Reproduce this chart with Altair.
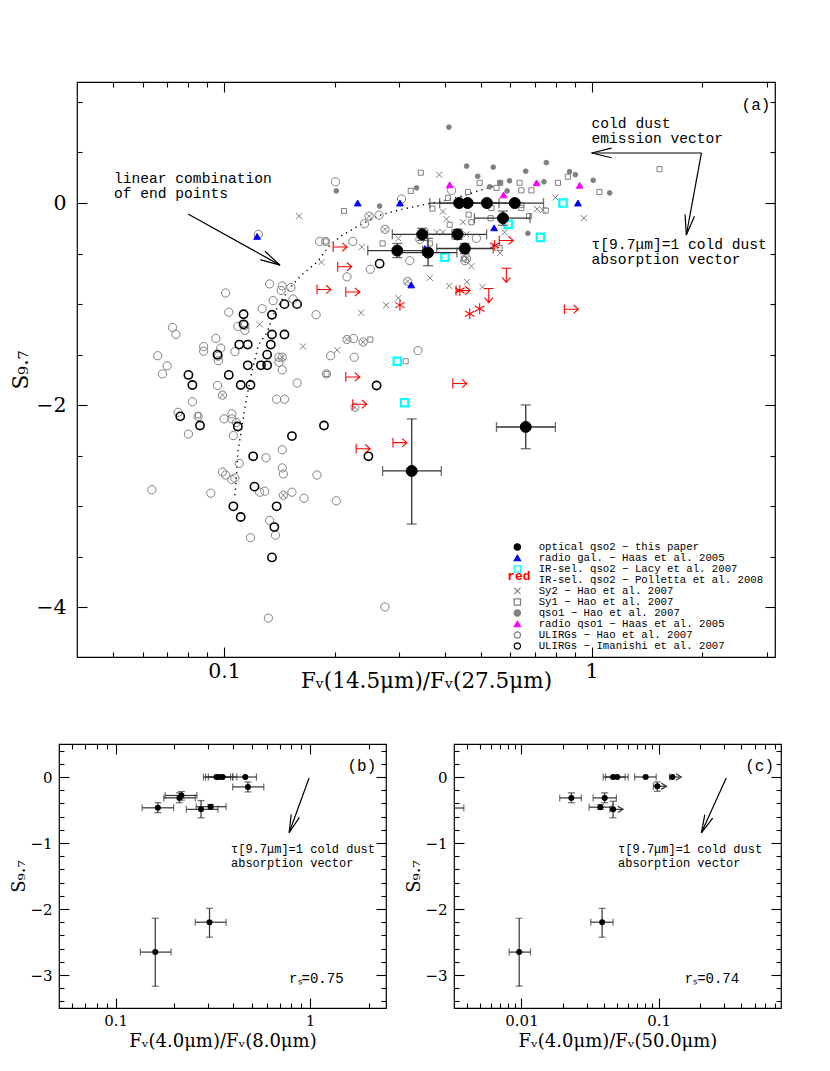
import altair as alt
import pandas as pd

FONT = "DejaVu Serif"
TFONT = "Liberation Mono"
GREY = "#808080"
EBAR = "#333333"

# ------------------------------------------------------------------ legend groups
GROUPS = [
    "optical qso2 − this paper",
    "radio gal. − Haas et al. 2005",
    "IR-sel. qso2 − Lacy et al. 2007",
    "IR-sel. qso2 − Polletta et al. 2008",
    "Sy2 − Hao et al. 2007",
    "Sy1 − Hao et al. 2007",
    "qso1 − Hao et al. 2007",
    "radio qso1 − Haas et al. 2005",
    "ULIRGs − Hao et al. 2007",
    "ULIRGs − Imanishi et al. 2007",
]

# ------------------------------------------------------------------ panel (a) data  (ratio, S9.7)
hao_ulirg = [
    (0.124, -0.31), (0.182, -0.38), (0.189, -0.38), (0.133, -0.80), (0.144, -0.82), (0.152, -0.835),
    (0.143, -0.865), (0.101, -0.89), (0.136, -0.965), (0.154, -0.95), (0.127, -1.045), (0.103, -1.08),
    (0.178, -1.105), (0.0724, -1.23), (0.074, -1.30), (0.109, -1.22), (0.114, -1.21), (0.114, -1.26),
    (0.095, -1.34), (0.088, -1.42), (0.088, -1.465), (0.098, -1.435), (0.107, -1.47), (0.066, -1.51),
    (0.070, -1.61), (0.068, -1.69), (0.0965, -1.515), (0.0965, -1.56), (0.141, -1.525), (0.144, -1.525),
    (0.141, -1.575), (0.144, -1.65), (0.158, -1.78), (0.096, -1.805), (0.082, -1.965), (0.139, -1.94),
    (0.146, -1.94), (0.195, -1.51), (0.19, -1.69), (0.075, -2.07), (0.085, -2.11), (0.080, -2.285),
    (0.100, -2.135), (0.105, -2.085), (0.105, -2.135), (0.108, -2.17), (0.106, -2.30), (0.130, -2.52),
    (0.144, -2.44), (0.144, -2.62), (0.145, -2.68), (0.110, -2.575), (0.099, -2.66), (0.101, -2.69),
    (0.105, -2.735), (0.107, -2.72), (0.0636, -2.835), (0.092, -2.87), (0.125, -2.86), (0.129, -2.85),
    (0.153, -2.86), (0.165, -2.92), (0.179, -2.69), (0.133, -3.14), (0.138, -3.285), (0.118, -3.31),
    (0.132, -4.105), (0.145, -2.89), (0.201, 0.21), (0.304, 0.04), (0.264, -0.12), (0.241, -0.205),
    (0.224, -0.38), (0.25, -0.655), (0.216, -0.73), (0.320, -0.57), (0.225, -1.34), (0.226, -1.525),
    (0.337, -1.46), (0.416, 0.125), (0.341, -0.36), (0.452, -0.57), (0.486, -0.35), (0.202, -2.945),
    (0.274, -3.995), (0.099, -1.90), (0.248, -0.13), (0.274, -0.26), (0.216, -1.35), (0.239, -1.375),
    (0.227, -2.02), (0.316, -0.775), (0.457, -0.55),
]
imanishi = [
    (0.146, -1.00), (0.158, -1.00), (0.113, -1.10), (0.135, -1.105), (0.113, -1.20), (0.135, -1.30),
    (0.146, -1.30), (0.110, -1.40), (0.116, -1.40), (0.134, -1.40), (0.096, -1.50), (0.131, -1.50),
    (0.116, -1.605), (0.126, -1.605), (0.131, -1.605), (0.080, -1.70), (0.103, -1.70), (0.082, -1.80),
    (0.111, -1.80), (0.118, -1.80), (0.076, -2.11), (0.086, -2.20), (0.109, -2.21), (0.187, -2.20),
    (0.153, -2.305), (0.120, -2.505), (0.121, -2.805), (0.139, -3.00), (0.106, -3.00), (0.111, -3.105),
    (0.137, -3.205), (0.135, -3.505), (0.265, -0.60), (0.26, -1.805), (0.247, -2.505),
]
sy2 = [
    (0.160, -0.13), (0.184, -0.585), (0.237, -0.435), (0.298, -0.35), (0.125, -1.2), (0.164, -1.42),
    (0.236, -1.085), (0.276, -1.01), (0.298, -0.94), (0.203, -1.455), (0.274, -0.26), (0.248, -0.13),
    (0.216, -1.35), (0.239, -1.375), (0.316, -0.775), (0.099, -1.90), (0.144, -1.525), (0.227, -2.02),
    (0.145, -2.89), (0.385, 0.28), (0.394, -0.085), (0.403, -0.16), (0.447, -0.19), (0.379, -0.29),
    (0.394, -0.29), (0.363, -0.74), (0.41, -0.82), (0.457, -0.55), (0.71, -0.06), (0.737, -0.07),
    (0.797, 0.055), (0.953, -0.15), (0.58, -0.29), (0.564, -0.495), (0.471, -0.625), (0.458, -0.78),
    (0.505, -0.83), (0.457, -0.31),
]
sy1 = [
    (0.212, -0.08), (0.322, 0.12), (0.270, -0.40), (0.189, -0.38), (0.25, -1.35), (0.312, -1.565),
    (0.343, 0.30), (0.085, -2.10), (0.19, -1.69), (0.369, -0.055), (0.407, 0.05), (0.411, -0.215),
    (0.461, 0.11), (0.363, -0.40), (0.496, 0.20), (0.551, 0.15), (0.564, 0.20), (0.637, 0.20),
    (0.644, 0.125), (0.686, 0.125), (0.81, 0.20), (0.862, 0.26), (1.05, 0.11), (0.75, -0.075),
    (0.676, -0.13), (0.644, -0.05), (0.531, -0.15), (0.471, -0.19), (0.562, -0.445), (0.449, -0.55),
    (1.53, 0.335), (0.463, -0.115), (0.644, -0.02), (0.534, -0.05),
]
qso1 = [
    (0.202, 0.12), (0.265, -0.03), (0.334, 0.15), (0.409, 0.75), (0.457, 0.365), (0.54, 0.355),
    (0.49, 0.265), (0.598, 0.22), (0.662, 0.315), (0.753, 0.40), (0.742, 0.21), (0.528, 0.16),
    (0.871, 0.31), (0.903, 0.28), (1.01, 0.225), (1.12, 0.10), (0.589, 0.12), (0.671, -0.30),
    (0.564, 0.20),
]
radio_gal = [(0.123, -0.33), (0.231, 0.0), (0.301, 0.0), (0.323, -0.81), (0.352, -0.45),
             (0.543, -0.245), (0.918, 0.0)]
radio_qso1 = [(0.411, 0.18), (0.576, 0.08), (0.708, 0.20), (0.928, 0.175)]
lacy = [(0.399, -0.535), (0.593, -0.21), (0.836, 0.0), (0.726, -0.34), (0.296, -1.565), (0.310, -1.975)]
polletta_xlim = [(0.207, -0.435), (0.213, -0.63), (0.187, -0.855), (0.224, -0.88), (0.586, -0.37),
                 (0.447, -0.865), (0.881, -1.05), (0.224, -1.72), (0.234, -1.99), (0.239, -2.43),
                 (0.301, -2.37), (0.438, -1.785)]
polletta_ylim = [(0.586, -0.715), (0.525, -0.915)]
polletta_det = [(0.301, -1.01), (0.466, -1.095), (0.496, -1.045), (0.545, -0.42), (0.438, -0.865)]

# optical qso2 (this paper) in panel (a)
opt_a_x = [0.436, 0.46, 0.519, 0.618, 0.574, 0.346, 0.432, 0.296, 0.359, 0.452, 0.324, 0.662]
opt_a_y = [0.0, 0.0, 0.0, 0.0, -0.15, -0.31, -0.31, -0.47, -0.49, -0.45, -2.65, -2.215]
opt_a_xlo = [0.363, 0.386, 0.43, 0.51, 0.48, 0.287, 0.358, 0.246, 0.30, 0.379, 0.27, 0.551]
opt_a_xhi = [0.515, 0.56, 0.62, 0.74, 0.68, 0.417, 0.518, 0.347, 0.43, 0.54, 0.39, 0.797]
opt_a_ylo = [0.0, 0.0, 0.0, 0.0, -0.22, -0.37, -0.36, -0.54, -0.62, -0.50, -3.175, -2.43]
opt_a_yhi = [0.0, 0.0, 0.0, 0.0, -0.08, -0.25, -0.26, -0.40, -0.35, -0.40, -2.135, -1.997]

# dotted "linear combination of end points" curve
curve_x = [0.107, 0.108, 0.109, 0.112, 0.115, 0.119, 0.124, 0.131, 0.136, 0.144, 0.154, 0.164,
           0.179, 0.194, 0.210, 0.234, 0.265, 0.306, 0.356, 0.404, 0.446, 0.542]
curve_y = [-2.89, -2.73, -2.465, -2.20, -1.94, -1.67, -1.405, -1.28, -1.11, -0.95, -0.80, -0.70,
           -0.585, -0.415, -0.317, -0.218, -0.12, -0.06, -0.01, 0.03, 0.07, 0.17]

# ------------------------------------------------------------------ panel (b) data
opt_b_x = [0.33, 0.34, 0.355, 0.464, 0.479, 0.213, 0.218, 0.165, 0.275, 0.308, 0.160, 0.304]
opt_b_y = [0.0, 0.0, 0.0, 0.0, -0.15, -0.317, -0.28, -0.467, -0.49, -0.45, -2.653, -2.20]
opt_b_xlo = [0.283, 0.29, 0.30, 0.40, 0.40, 0.177, 0.18, 0.137, 0.231, 0.26, 0.134, 0.257]
opt_b_xhi = [0.39, 0.40, 0.42, 0.53, 0.578, 0.257, 0.262, 0.199, 0.336, 0.37, 0.193, 0.37]
opt_b_ylo = [0.0, 0.0, 0.0, 0.0, -0.226, -0.39, -0.35, -0.54, -0.618, -0.49, -3.17, -2.427]
opt_b_yhi = [0.0, 0.0, 0.0, 0.0, -0.075, -0.24, -0.22, -0.39, -0.357, -0.417, -2.14, -1.99]

# ------------------------------------------------------------------ panel (c) data
opt_c_x = [0.0465, 0.0499, 0.0804, 0.126, 0.0978, 0.0231, 0.0404, 0.0376, 0.0465, 0.0028, 0.00962, 0.0387]
opt_c_y = [0.0, 0.0, 0.0, 0.0, -0.14, -0.317, -0.317, -0.457, -0.49, -0.47, -2.653, -2.20]
opt_c_xlo = [0.0394, 0.041, 0.0668, 0.12, 0.0915, 0.019, 0.0333, 0.0311, 0.0441, 0.0023, 0.00813, 0.032]
opt_c_xhi = [0.057, 0.06, 0.096, 0.146, 0.114, 0.0273, 0.0492, 0.046, 0.055, 0.0038, 0.01164, 0.0465]
opt_c_ylo = [0.0, 0.0, 0.0, 0.0, -0.216, -0.39, -0.39, -0.49, -0.618, -0.47, -3.17, -2.427]
opt_c_yhi = [0.0, 0.0, 0.0, 0.0, -0.075, -0.24, -0.24, -0.417, -0.367, -0.47, -2.14, -1.99]
opt_c_lim = [0, 0, 0, 1, 1, 0, 0, 0, 1, 0, 0, 0]

# ------------------------------------------------------------------ annotations
ann_a_text = ["linear combination", "of end points", "cold dust", "emission vector",
              "τ[9.7μm]=1 cold dust", "absorption vector"]
ann_a_x = [0.0502, 0.0502, 1.0, 1.0, 1.0, 1.0]
ann_a_y = [0.238, 0.089, 0.785, 0.637, -0.413, -0.567]
arrow_a_x = [0.0798, 1.99, 1.99]
arrow_a_y = [-0.109, 0.495, 0.495]
arrow_a_x2 = [0.142, 1.0, 1.81]
arrow_a_y2 = [-0.614, 0.495, -0.317]
arrow_a_ang = [29, 180, 100]

vec_text = ["τ[9.7μm]=1 cold dust", "absorption vector"]
vec_y = [-1.095, -1.297]

# ------------------------------------------------------------------ shapes & styles
CROSS = "M-1,-1L1,1M-1,1L1,-1"
ARROW_R = "M-1,-0.7L-1,0.7M-1,0L1,0M0.3,-0.6L1,0L0.3,0.6"
ARROW_D = "M-0.7,-1L0.7,-1M0,-1L0,1M-0.6,0.3L0,1L0.6,0.3"
STAR = "M0,-1L0,1M-0.87,-0.5L0.87,0.5M-0.87,0.5L0.87,-0.5"
HEAD = "M-1,-0.24L0,0L-1,0.24"
LIMHEAD = "M-1,-0.6L0,0L-1,0.6"

SHAPES = ["circle", "triangle-up", "square", ARROW_R, CROSS, "square", "circle", "triangle-up", "circle", "circle"]
FILLS = ["#000000", "#0000ff", "transparent", "transparent", "transparent", "transparent", GREY,
         "#ff00ff", "transparent", "transparent"]
STROKES = ["#000000", "#0000ff", "#00ffff", "transparent", GREY, GREY, GREY, "#ff00ff", GREY, "#000000"]

LEG = alt.Legend(title=None, orient="none", legendX=435, legendY=460, labelFont=TFONT,
                 labelFontSize=10.7, labelColor="black", labelLimit=400, symbolSize=40,
                 symbolStrokeWidth=1.2, rowPadding=0, clipHeight=10, labelOffset=16, padding=0)

XA = alt.Scale(type="log", domain=[0.0398, 3.155], nice=False)
YA = alt.Scale(domain=[-4.49, 1.197], nice=False, zero=False)
XB = alt.Scale(type="log", domain=[0.0512, 2.455], nice=False)
XC = alt.Scale(type="log", domain=[0.00322, 0.78], nice=False)
YBC = alt.Scale(domain=[-3.5, 0.5], nice=False, zero=False)


def pairs_df(pairs, group=None):
    df = pd.DataFrame(pairs, columns=["x", "y"])
    if group is not None:
        df["group"] = group
    return df


def xq(field, sc):
    return alt.X(f"{field}:Q", scale=sc, axis=None)


def yq(field, sc):
    return alt.Y(f"{field}:Q", scale=sc, axis=None)


def group_layer(df, size, sw, XS, YS):
    return alt.Chart(df).mark_point(opacity=1, clip=True).encode(
        x=xq("x", XS), y=yq("y", YS),
        shape=alt.Shape("group:N", scale=alt.Scale(domain=GROUPS, range=SHAPES), legend=LEG),
        fill=alt.Fill("group:N", scale=alt.Scale(domain=GROUPS, range=FILLS), legend=LEG),
        stroke=alt.Stroke("group:N", scale=alt.Scale(domain=GROUPS, range=STROKES), legend=LEG),
        size=alt.value(size), strokeWidth=alt.value(sw),
    )


def optical_df(x, y, xlo, xhi, ylo, yhi, lim=None):
    df = pd.DataFrame({"x": x, "y": y, "xlo": xlo, "xhi": xhi, "ylo": ylo, "yhi": yhi})
    df["lim"] = lim if lim is not None else [0] * len(x)
    return df


def errorbar_layers(df, XS, YS, cap, sw=1.3, headsize=150):
    base = alt.Chart(df)
    has_y = "datum.ylo != datum.yhi"
    return [
        base.mark_rule(color=EBAR, strokeWidth=sw, clip=True).encode(
            x=xq("xlo", XS), x2="xhi:Q", y=yq("y", YS)),
        base.transform_filter(has_y).mark_rule(color=EBAR, strokeWidth=sw, clip=True).encode(
            x=xq("x", XS), y=yq("ylo", YS), y2="yhi:Q"),
        base.mark_tick(orient="vertical", size=cap, thickness=sw, color=EBAR, clip=True).encode(
            x=xq("xlo", XS), y=yq("y", YS)),
        base.transform_filter("datum.lim == 0").mark_tick(orient="vertical", size=cap, thickness=sw,
                                                          color=EBAR, clip=True).encode(
            x=xq("xhi", XS), y=yq("y", YS)),
        base.transform_filter(has_y).mark_tick(orient="horizontal", size=cap, thickness=sw,
                                               color=EBAR, clip=True).encode(
            x=xq("x", XS), y=yq("ylo", YS)),
        base.transform_filter(has_y).mark_tick(orient="horizontal", size=cap, thickness=sw,
                                               color=EBAR, clip=True).encode(
            x=xq("x", XS), y=yq("yhi", YS)),
        base.transform_filter("datum.lim == 1").mark_point(shape=LIMHEAD, filled=False, size=headsize,
                                                           color=EBAR, strokeWidth=sw, opacity=1,
                                                           clip=True).encode(
            x=xq("xhi", XS), y=yq("y", YS)),
    ]


def axis_layers(XS, YS, W, H, xmaj, xmin, ymaj, ymin, xtitle, ytitle, lab_fs, title_fs,
                xlab_pad, ylab_pad, xtitle_pad, ytitle_pad, tmaj, tmin, anchor):
    base = alt.Chart(pd.DataFrame({"x": [anchor[0]], "y": [anchor[1]]})).mark_point(opacity=0)
    common = dict(grid=False, domain=False, tickColor="black", tickWidth=1.1, labels=False, title=None)
    layers = [base.encode(
        x=alt.X("x:Q", scale=XS, axis=alt.Axis(
            values=xmaj, format="~g", ticks=False, grid=False, domain=False, labelPadding=xlab_pad,
            labelFont=FONT, labelFontSize=lab_fs, labelColor="black", labelFlush=False,
            title=xtitle, titleFont=FONT, titleFontSize=title_fs, titleFontWeight="normal",
            titleColor="black", titlePadding=xtitle_pad)),
        y=alt.Y("y:Q", scale=YS, axis=alt.Axis(
            values=ymaj, format="~g", ticks=False, grid=False, domain=False, labelPadding=ylab_pad,
            labelFont=FONT, labelFontSize=lab_fs, labelColor="black", labelFlush=False,
            title=ytitle, titleFont=FONT, titleFontSize=title_fs, titleFontWeight="normal",
            titleColor="black", titlePadding=ytitle_pad)),
    )]
    for xo, yo in [("top", "right"), ("bottom", "left")]:
        for xv, yv, ts in [(xmaj, ymaj, tmaj), (xmin, ymin, tmin)]:
            layers.append(base.encode(
                x=alt.X("x:Q", scale=XS, axis=alt.Axis(orient=xo, offset=-H, values=xv, tickSize=ts, **common)),
                y=alt.Y("y:Q", scale=YS, axis=alt.Axis(orient=yo, offset=-W, values=yv, tickSize=ts, **common)),
            ))
    return layers


def text_layer(df, XS, YS, size, align="left", color="black", weight="normal", font=TFONT):
    return alt.Chart(df).mark_text(align=align, baseline="middle", font=font, fontSize=size,
                                   color=color, fontWeight=weight).encode(
        x=xq("x", XS), y=yq("y", YS), text="t:N")


def arrow_layers(df, XS, YS, headsize):
    base = alt.Chart(df)
    return [
        base.mark_rule(color="black", strokeWidth=1.2).encode(
            x=xq("x", XS), y=yq("y", YS), x2="x2:Q", y2="y2:Q"),
        base.mark_point(shape=HEAD, filled=False, size=headsize, color="black", strokeWidth=1.2,
                        opacity=1).encode(
            x=xq("x2", XS), y=yq("y2", YS), angle=alt.Angle("ang:Q", scale=None)),
    ]


# ------------------------------------------------------------------ panel (a)
WA, HA = 698, 575
log_minor_a = [0.05, 0.06, 0.07, 0.08, 0.09, 0.2, 0.3, 0.4, 0.5, 0.6, 0.7, 0.8, 0.9, 2, 3]
y_minor_a = [1.0, 0.5, -0.5, -1.0, -1.5, -2.5, -3.0, -3.5]

layers_a = axis_layers(XA, YA, WA, HA, [0.1, 1], log_minor_a, [0, -2, -4], y_minor_a,
                       "Fᵥ(14.5μm)/Fᵥ(27.5μm)", "S₉.₇", 20.5, 21.5, 4, 11, -11, 3, 10, 5, (0.1, 0))

layers_a.append(alt.Chart(pd.DataFrame({"x": curve_x, "y": curve_y, "o": list(range(len(curve_x)))}))
                .mark_line(color="black", strokeDash=[1.3, 4.2], strokeWidth=1.4, clip=True)
                .encode(x=xq("x", XA), y=yq("y", YA), order="o:Q"))

layers_a += [
    group_layer(pairs_df(hao_ulirg, GROUPS[8]), 68, 1.0, XA, YA),
    group_layer(pairs_df(imanishi, GROUPS[9]), 68, 1.6, XA, YA),
    group_layer(pairs_df(sy2, GROUPS[4]), 38, 1.0, XA, YA),
    group_layer(pairs_df(sy1, GROUPS[5]), 26, 1.0, XA, YA),
    group_layer(pairs_df(qso1, GROUPS[6]), 22, 1.0, XA, YA),
    group_layer(pairs_df(radio_gal, GROUPS[1]), 45, 1.0, XA, YA),
    group_layer(pairs_df(radio_qso1, GROUPS[7]), 45, 1.0, XA, YA),
    group_layer(pairs_df(lacy, GROUPS[2]), 55, 2.2, XA, YA),
]
for pts, shp, sz in [(polletta_xlim, ARROW_R, 196), (polletta_ylim, ARROW_D, 196), (polletta_det, STAR, 121)]:
    layers_a.append(alt.Chart(pairs_df(pts)).mark_point(shape=shp, filled=False, size=sz, color="#ff0000",
                                                          strokeWidth=1.1, opacity=1, clip=True)
                    .encode(x=xq("x", XA), y=yq("y", YA)))

opt_a = optical_df(opt_a_x, opt_a_y, opt_a_xlo, opt_a_xhi, opt_a_ylo, opt_a_yhi)
layers_a += errorbar_layers(opt_a, XA, YA, cap=10)
opt_a["group"] = GROUPS[0]
layers_a.append(group_layer(opt_a, 120, 1.0, XA, YA))

layers_a.append(text_layer(pd.DataFrame({"x": ann_a_x, "y": ann_a_y, "t": ann_a_text}), XA, YA, 14.6))
layers_a += arrow_layers(pd.DataFrame({"x": arrow_a_x, "y": arrow_a_y, "x2": arrow_a_x2,
                                       "y2": arrow_a_y2, "ang": arrow_a_ang}), XA, YA, 1600)
layers_a.append(text_layer(pd.DataFrame({"x": [2.80], "y": [0.967], "t": ["(a)"]}), XA, YA, 16, align="center"))
layers_a.append(text_layer(pd.DataFrame({"x": [0.634], "y": [-3.692], "t": ["red"]}), XA, YA, 13,
                           align="center", color="#ff0000", weight="bold"))

panel_a = alt.layer(*layers_a).resolve_axis(x="independent", y="independent").properties(width=WA, height=HA)

# ------------------------------------------------------------------ panels (b) and (c)
WB, HB = 327, 264
y_minor_bc = [0.4, 0.2, -0.2, -0.4, -0.6, -0.8, -1.2, -1.4, -1.6, -1.8, -2.2, -2.4, -2.6, -2.8, -3.2, -3.4]


def small_panel(XS, xmaj, xmin, xtitle, opt, arrow, vec_x, rs_x, rs_text, lab_x, lab_text, anchor):
    layers = axis_layers(XS, YBC, WB, HB, xmaj, xmin, [0, -1, -2, -3], y_minor_bc,
                         xtitle, "S₉.₇", 15, 18, 5, 7, 4, 1, 10, 5, anchor)
    layers += errorbar_layers(opt, XS, YBC, cap=7, sw=1.2, headsize=110)
    layers.append(alt.Chart(opt).mark_point(filled=True, size=36, color="black", opacity=1, clip=True)
                  .encode(x=xq("x", XS), y=yq("y", YBC)))
    layers += arrow_layers(pd.DataFrame({"x": [arrow[0]], "y": [-0.015], "x2": [arrow[1]],
                                         "y2": [-0.845], "ang": [arrow[2]]}), XS, YBC, 1300)
    layers.append(text_layer(pd.DataFrame({"x": [vec_x, vec_x], "y": vec_y, "t": vec_text}), XS, YBC, 12))
    layers.append(text_layer(pd.DataFrame({"x": [rs_x], "y": [-3.056], "t": [rs_text]}), XS, YBC, 14))
    layers.append(text_layer(pd.DataFrame({"x": [lab_x], "y": [0.162], "t": [lab_text]}), XS, YBC, 16,
                             align="center"))
    return alt.layer(*layers).resolve_axis(x="independent", y="independent").properties(width=WB, height=HB)


opt_b = optical_df(opt_b_x, opt_b_y, opt_b_xlo, opt_b_xhi, opt_b_ylo, opt_b_yhi)
opt_c = optical_df(opt_c_x, opt_c_y, opt_c_xlo, opt_c_xhi, opt_c_ylo, opt_c_yhi, opt_c_lim)

panel_b = small_panel(XB, [0.1, 1], [0.06, 0.07, 0.08, 0.09, 0.2, 0.3, 0.4, 0.5, 0.6, 0.7, 0.8, 0.9, 2],
                      "Fᵥ(4.0μm)/Fᵥ(8.0μm)", opt_b, (0.988, 0.78, 110), 0.392, 0.78, "rₛ=0.75",
                      1.845, "(b)", (0.1, 0))
panel_c = small_panel(XC, [0.01, 0.1],
                      [0.004, 0.005, 0.006, 0.007, 0.008, 0.009, 0.02, 0.03, 0.04, 0.05, 0.06, 0.07, 0.08,
                       0.09, 0.2, 0.3, 0.4, 0.5, 0.6, 0.7],
                      "Fᵥ(4.0μm)/Fᵥ(50.0μm)", opt_c, (0.311, 0.205, 114), 0.0506, 0.155, "rₛ=0.74",
                      0.545, "(c)", (0.01, 0))

# invisible spacer that shifts panel (a) to the right of panels (b)/(c)
spacer = alt.Chart(pd.DataFrame({"x": [0]})).mark_point(opacity=0).encode(
    x=alt.X("x:Q", axis=None), y=alt.Y("x:Q", axis=None)
).properties(width=18, height=10, view=alt.ViewBackground(stroke="transparent"))

top = alt.HConcatChart(hconcat=[spacer, panel_a], spacing=0, bounds="flush").resolve_scale(
    shape="independent", fill="independent", stroke="independent")
bottom = alt.hconcat(panel_b, panel_c, spacing=17)

chart = alt.ConcatChart(concat=[top, bottom], columns=1, spacing=49,
                        padding={"left": 2, "top": 72, "right": 5, "bottom": 5}).resolve_scale(
    shape="independent", fill="independent", stroke="independent")
chart = chart.configure_view(stroke="black", strokeWidth=1.2)

chart.save("out.html", embed_options={"renderer": "svg", "actions": False})
